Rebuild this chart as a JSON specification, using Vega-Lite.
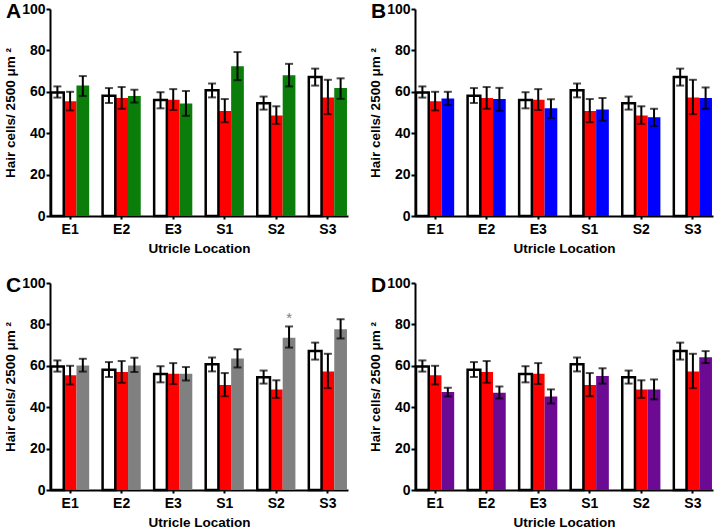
{
  "$schema": "https://vega.github.io/schema/vega-lite/v6.json",
  "padding": {"left": 3, "top": 1, "right": 5, "bottom": 3},
  "background": "white",
  "datasets": {
    "d": [
      {"p":"A","loc":"E1","g":1,"s":"Control","m":59.7,"lo":57.2,"hi":62.6},
      {"p":"A","loc":"E2","g":1,"s":"Control","m":58.1,"lo":54.6,"hi":61.8},
      {"p":"A","loc":"E3","g":1,"s":"Control","m":56.0,"lo":52.0,"hi":59.8},
      {"p":"A","loc":"S1","g":1,"s":"Control","m":60.7,"lo":57.3,"hi":64.0},
      {"p":"A","loc":"S2","g":1,"s":"Control","m":54.5,"lo":51.4,"hi":57.7},
      {"p":"A","loc":"S3","g":1,"s":"Control","m":67.2,"lo":63.0,"hi":71.2},
      {"p":"A","loc":"E1","g":2,"s":"Red","m":55.4,"lo":51.0,"hi":60.0},
      {"p":"A","loc":"E2","g":2,"s":"Red","m":57.0,"lo":51.8,"hi":62.3},
      {"p":"A","loc":"E3","g":2,"s":"Red","m":56.2,"lo":51.2,"hi":61.3},
      {"p":"A","loc":"S1","g":2,"s":"Red","m":50.7,"lo":45.3,"hi":56.5},
      {"p":"A","loc":"S2","g":2,"s":"Red","m":48.6,"lo":44.5,"hi":53.0},
      {"p":"A","loc":"S3","g":2,"s":"Red","m":57.3,"lo":49.2,"hi":65.8},
      {"p":"A","loc":"E1","g":3,"s":"Green","m":63.0,"lo":58.0,"hi":67.6},
      {"p":"A","loc":"E2","g":3,"s":"Green","m":58.0,"lo":54.8,"hi":61.0},
      {"p":"A","loc":"E3","g":3,"s":"Green","m":54.4,"lo":48.4,"hi":60.4},
      {"p":"A","loc":"S1","g":3,"s":"Green","m":72.4,"lo":65.6,"hi":79.2},
      {"p":"A","loc":"S2","g":3,"s":"Green","m":68.0,"lo":62.6,"hi":73.5},
      {"p":"A","loc":"S3","g":3,"s":"Green","m":61.8,"lo":56.6,"hi":66.5},

      {"p":"B","loc":"E1","g":1,"s":"Control","m":59.7,"lo":57.2,"hi":62.6},
      {"p":"B","loc":"E2","g":1,"s":"Control","m":58.1,"lo":54.6,"hi":61.8},
      {"p":"B","loc":"E3","g":1,"s":"Control","m":56.0,"lo":52.0,"hi":59.8},
      {"p":"B","loc":"S1","g":1,"s":"Control","m":60.7,"lo":57.3,"hi":64.0},
      {"p":"B","loc":"S2","g":1,"s":"Control","m":54.5,"lo":51.4,"hi":57.7},
      {"p":"B","loc":"S3","g":1,"s":"Control","m":67.2,"lo":63.0,"hi":71.2},
      {"p":"B","loc":"E1","g":2,"s":"Red","m":55.4,"lo":51.0,"hi":60.0},
      {"p":"B","loc":"E2","g":2,"s":"Red","m":57.0,"lo":51.8,"hi":62.3},
      {"p":"B","loc":"E3","g":2,"s":"Red","m":56.2,"lo":51.2,"hi":61.3},
      {"p":"B","loc":"S1","g":2,"s":"Red","m":50.7,"lo":45.3,"hi":56.5},
      {"p":"B","loc":"S2","g":2,"s":"Red","m":48.6,"lo":44.5,"hi":53.0},
      {"p":"B","loc":"S3","g":2,"s":"Red","m":57.3,"lo":49.2,"hi":65.8},
      {"p":"B","loc":"E1","g":3,"s":"Blue","m":56.8,"lo":53.6,"hi":60.0},
      {"p":"B","loc":"E2","g":3,"s":"Blue","m":56.5,"lo":50.8,"hi":61.9},
      {"p":"B","loc":"E3","g":3,"s":"Blue","m":52.0,"lo":47.3,"hi":56.4},
      {"p":"B","loc":"S1","g":3,"s":"Blue","m":51.5,"lo":46.0,"hi":57.0},
      {"p":"B","loc":"S2","g":3,"s":"Blue","m":47.7,"lo":43.5,"hi":51.8},
      {"p":"B","loc":"S3","g":3,"s":"Blue","m":57.0,"lo":51.8,"hi":62.1},

      {"p":"C","loc":"E1","g":1,"s":"Control","m":59.7,"lo":57.2,"hi":62.6},
      {"p":"C","loc":"E2","g":1,"s":"Control","m":58.1,"lo":54.6,"hi":61.8},
      {"p":"C","loc":"E3","g":1,"s":"Control","m":56.0,"lo":52.0,"hi":59.8},
      {"p":"C","loc":"S1","g":1,"s":"Control","m":60.7,"lo":57.3,"hi":64.0},
      {"p":"C","loc":"S2","g":1,"s":"Control","m":54.5,"lo":51.4,"hi":57.7},
      {"p":"C","loc":"S3","g":1,"s":"Control","m":67.2,"lo":63.0,"hi":71.2},
      {"p":"C","loc":"E1","g":2,"s":"Red","m":55.4,"lo":51.0,"hi":60.0},
      {"p":"C","loc":"E2","g":2,"s":"Red","m":57.0,"lo":51.8,"hi":62.3},
      {"p":"C","loc":"E3","g":2,"s":"Red","m":56.2,"lo":51.2,"hi":61.3},
      {"p":"C","loc":"S1","g":2,"s":"Red","m":50.7,"lo":45.3,"hi":56.5},
      {"p":"C","loc":"S2","g":2,"s":"Red","m":48.6,"lo":44.5,"hi":53.0},
      {"p":"C","loc":"S3","g":2,"s":"Red","m":57.3,"lo":49.2,"hi":65.8},
      {"p":"C","loc":"E1","g":3,"s":"Gray","m":60.2,"lo":57.2,"hi":63.4},
      {"p":"C","loc":"E2","g":3,"s":"Gray","m":60.1,"lo":57.0,"hi":63.9},
      {"p":"C","loc":"E3","g":3,"s":"Gray","m":56.1,"lo":52.9,"hi":59.4},
      {"p":"C","loc":"S1","g":3,"s":"Gray","m":63.5,"lo":59.2,"hi":68.0},
      {"p":"C","loc":"S2","g":3,"s":"Gray","m":73.6,"lo":68.8,"hi":79.0,"sig":"*"},
      {"p":"C","loc":"S3","g":3,"s":"Gray","m":77.7,"lo":73.2,"hi":82.5},

      {"p":"D","loc":"E1","g":1,"s":"Control","m":59.7,"lo":57.2,"hi":62.6},
      {"p":"D","loc":"E2","g":1,"s":"Control","m":58.1,"lo":54.6,"hi":61.8},
      {"p":"D","loc":"E3","g":1,"s":"Control","m":56.0,"lo":52.0,"hi":59.8},
      {"p":"D","loc":"S1","g":1,"s":"Control","m":60.7,"lo":57.3,"hi":64.0},
      {"p":"D","loc":"S2","g":1,"s":"Control","m":54.5,"lo":51.4,"hi":57.7},
      {"p":"D","loc":"S3","g":1,"s":"Control","m":67.2,"lo":63.0,"hi":71.2},
      {"p":"D","loc":"E1","g":2,"s":"Red","m":55.4,"lo":51.0,"hi":60.0},
      {"p":"D","loc":"E2","g":2,"s":"Red","m":57.0,"lo":51.8,"hi":62.3},
      {"p":"D","loc":"E3","g":2,"s":"Red","m":56.2,"lo":51.2,"hi":61.3},
      {"p":"D","loc":"S1","g":2,"s":"Red","m":50.7,"lo":45.3,"hi":56.5},
      {"p":"D","loc":"S2","g":2,"s":"Red","m":48.6,"lo":44.5,"hi":53.0},
      {"p":"D","loc":"S3","g":2,"s":"Red","m":57.3,"lo":49.2,"hi":65.8},
      {"p":"D","loc":"E1","g":3,"s":"Purple","m":47.3,"lo":45.2,"hi":49.4},
      {"p":"D","loc":"E2","g":3,"s":"Purple","m":47.0,"lo":44.2,"hi":50.0},
      {"p":"D","loc":"E3","g":3,"s":"Purple","m":45.2,"lo":41.8,"hi":48.6},
      {"p":"D","loc":"S1","g":3,"s":"Purple","m":55.1,"lo":51.4,"hi":58.8},
      {"p":"D","loc":"S2","g":3,"s":"Purple","m":48.6,"lo":43.8,"hi":53.4},
      {"p":"D","loc":"S3","g":3,"s":"Purple","m":64.1,"lo":61.3,"hi":67.1}
    ]
  },
  "data": {"name": "d"},
  "columns": 2,
  "spacing": {"row": 20, "column": 20},
  "concat": [
    {
      "title": {"text": "A"},
      "width": 298, "height": 207,
      "transform": [{"filter": "datum.p == 'A'"}],
      "encoding": {
        "x": {"field": "loc", "type": "nominal", "title": "Utricle Location", "scale": {"paddingInner": 0.26, "paddingOuter": 0.02}},
        "xOffset": {"field": "g", "type": "ordinal", "scale": {"paddingInner": 0}}
      },
      "layer": [
        {"mark": {"type": "bar"}, "encoding": {"y": {"field": "m", "type": "quantitative", "title": "Hair cells/ 2500 μm ²", "scale": {"domain": [0, 100], "nice": false}, "axis": {"values": [0, 20, 40, 60, 80, 100]}}, "fill": {"field": "s", "type": "nominal", "legend": null, "scale": {"domain": ["Control", "Red", "Green", "Blue", "Gray", "Purple"], "range": ["#ffffff", "#ff0000", "#0a7d0a", "#0000ff", "#808080", "#6c0a93"]}}}},
        {"transform": [{"filter": "datum.g == 1"}], "mark": {"type": "bar", "fill": "white", "stroke": "black", "strokeWidth": 2.5}, "encoding": {"y": {"field": "m", "type": "quantitative", "title": "Hair cells/ 2500 μm ²"}}},
        {"mark": {"type": "rule", "color": "black", "strokeWidth": 2}, "encoding": {"y": {"field": "lo", "type": "quantitative", "title": "Hair cells/ 2500 μm ²"}, "y2": {"field": "hi"}}},
        {"mark": {"type": "tick", "color": "black", "thickness": 2, "size": 8}, "encoding": {"y": {"field": "lo", "type": "quantitative", "title": "Hair cells/ 2500 μm ²"}}},
        {"mark": {"type": "tick", "color": "black", "thickness": 2, "size": 8}, "encoding": {"y": {"field": "hi", "type": "quantitative", "title": "Hair cells/ 2500 μm ²"}}}
      ]
    },
    {
      "title": {"text": "B"},
      "width": 298, "height": 207,
      "transform": [{"filter": "datum.p == 'B'"}],
      "encoding": {
        "x": {"field": "loc", "type": "nominal", "title": "Utricle Location", "scale": {"paddingInner": 0.26, "paddingOuter": 0.02}},
        "xOffset": {"field": "g", "type": "ordinal", "scale": {"paddingInner": 0}}
      },
      "layer": [
        {"mark": {"type": "bar"}, "encoding": {"y": {"field": "m", "type": "quantitative", "title": "Hair cells/ 2500 μm ²", "scale": {"domain": [0, 100], "nice": false}, "axis": {"values": [0, 20, 40, 60, 80, 100]}}, "fill": {"field": "s", "type": "nominal", "legend": null, "scale": {"domain": ["Control", "Red", "Green", "Blue", "Gray", "Purple"], "range": ["#ffffff", "#ff0000", "#0a7d0a", "#0000ff", "#808080", "#6c0a93"]}}}},
        {"transform": [{"filter": "datum.g == 1"}], "mark": {"type": "bar", "fill": "white", "stroke": "black", "strokeWidth": 2.5}, "encoding": {"y": {"field": "m", "type": "quantitative", "title": "Hair cells/ 2500 μm ²"}}},
        {"mark": {"type": "rule", "color": "black", "strokeWidth": 2}, "encoding": {"y": {"field": "lo", "type": "quantitative", "title": "Hair cells/ 2500 μm ²"}, "y2": {"field": "hi"}}},
        {"mark": {"type": "tick", "color": "black", "thickness": 2, "size": 8}, "encoding": {"y": {"field": "lo", "type": "quantitative", "title": "Hair cells/ 2500 μm ²"}}},
        {"mark": {"type": "tick", "color": "black", "thickness": 2, "size": 8}, "encoding": {"y": {"field": "hi", "type": "quantitative", "title": "Hair cells/ 2500 μm ²"}}}
      ]
    },
    {
      "title": {"text": "C"},
      "width": 298, "height": 207,
      "transform": [{"filter": "datum.p == 'C'"}],
      "encoding": {
        "x": {"field": "loc", "type": "nominal", "title": "Utricle Location", "scale": {"paddingInner": 0.26, "paddingOuter": 0.02}},
        "xOffset": {"field": "g", "type": "ordinal", "scale": {"paddingInner": 0}}
      },
      "layer": [
        {"mark": {"type": "bar"}, "encoding": {"y": {"field": "m", "type": "quantitative", "title": "Hair cells/ 2500 μm ²", "scale": {"domain": [0, 100], "nice": false}, "axis": {"values": [0, 20, 40, 60, 80, 100]}}, "fill": {"field": "s", "type": "nominal", "legend": null, "scale": {"domain": ["Control", "Red", "Green", "Blue", "Gray", "Purple"], "range": ["#ffffff", "#ff0000", "#0a7d0a", "#0000ff", "#808080", "#6c0a93"]}}}},
        {"transform": [{"filter": "datum.g == 1"}], "mark": {"type": "bar", "fill": "white", "stroke": "black", "strokeWidth": 2.5}, "encoding": {"y": {"field": "m", "type": "quantitative", "title": "Hair cells/ 2500 μm ²"}}},
        {"mark": {"type": "rule", "color": "black", "strokeWidth": 2}, "encoding": {"y": {"field": "lo", "type": "quantitative", "title": "Hair cells/ 2500 μm ²"}, "y2": {"field": "hi"}}},
        {"mark": {"type": "tick", "color": "black", "thickness": 2, "size": 8}, "encoding": {"y": {"field": "lo", "type": "quantitative", "title": "Hair cells/ 2500 μm ²"}}},
        {"mark": {"type": "tick", "color": "black", "thickness": 2, "size": 8}, "encoding": {"y": {"field": "hi", "type": "quantitative", "title": "Hair cells/ 2500 μm ²"}}},
        {"transform": [{"filter": "datum.sig"}], "mark": {"type": "text", "color": "#808080", "fontSize": 15, "dy": -8, "baseline": "middle", "font": "Liberation Sans"}, "encoding": {"y": {"field": "hi", "type": "quantitative", "title": "Hair cells/ 2500 μm ²"}, "text": {"field": "sig"}}}
      ]
    },
    {
      "title": {"text": "D"},
      "width": 298, "height": 207,
      "transform": [{"filter": "datum.p == 'D'"}],
      "encoding": {
        "x": {"field": "loc", "type": "nominal", "title": "Utricle Location", "scale": {"paddingInner": 0.26, "paddingOuter": 0.02}},
        "xOffset": {"field": "g", "type": "ordinal", "scale": {"paddingInner": 0}}
      },
      "layer": [
        {"mark": {"type": "bar"}, "encoding": {"y": {"field": "m", "type": "quantitative", "title": "Hair cells/ 2500 μm ²", "scale": {"domain": [0, 100], "nice": false}, "axis": {"values": [0, 20, 40, 60, 80, 100]}}, "fill": {"field": "s", "type": "nominal", "legend": null, "scale": {"domain": ["Control", "Red", "Green", "Blue", "Gray", "Purple"], "range": ["#ffffff", "#ff0000", "#0a7d0a", "#0000ff", "#808080", "#6c0a93"]}}}},
        {"transform": [{"filter": "datum.g == 1"}], "mark": {"type": "bar", "fill": "white", "stroke": "black", "strokeWidth": 2.5}, "encoding": {"y": {"field": "m", "type": "quantitative", "title": "Hair cells/ 2500 μm ²"}}},
        {"mark": {"type": "rule", "color": "black", "strokeWidth": 2}, "encoding": {"y": {"field": "lo", "type": "quantitative", "title": "Hair cells/ 2500 μm ²"}, "y2": {"field": "hi"}}},
        {"mark": {"type": "tick", "color": "black", "thickness": 2, "size": 8}, "encoding": {"y": {"field": "lo", "type": "quantitative", "title": "Hair cells/ 2500 μm ²"}}},
        {"mark": {"type": "tick", "color": "black", "thickness": 2, "size": 8}, "encoding": {"y": {"field": "hi", "type": "quantitative", "title": "Hair cells/ 2500 μm ²"}}}
      ]
    }
  ],
  "config": {
    "view": {"stroke": null},
    "title": {"anchor": "start", "frame": "group", "orient": "top", "dx": -44, "offset": -20, "fontSize": 21, "fontWeight": "bold", "font": "Liberation Sans", "color": "black", "baseline": "alphabetic"},
    "axis": {"grid": false, "domainColor": "black", "domainWidth": 2, "tickColor": "black", "tickWidth": 2, "labelColor": "black", "labelFont": "Liberation Sans", "labelFontWeight": "bold", "labelFontSize": 14, "titleFont": "Liberation Sans", "titleFontWeight": "bold", "titleFontSize": 13.5, "titleColor": "black"},
    "axisX": {"tickSize": 3, "labelAngle": 0, "labelPadding": 3, "titlePadding": 5},
    "axisY": {"tickSize": 4, "labelPadding": 1, "titlePadding": 4}
  }
}
